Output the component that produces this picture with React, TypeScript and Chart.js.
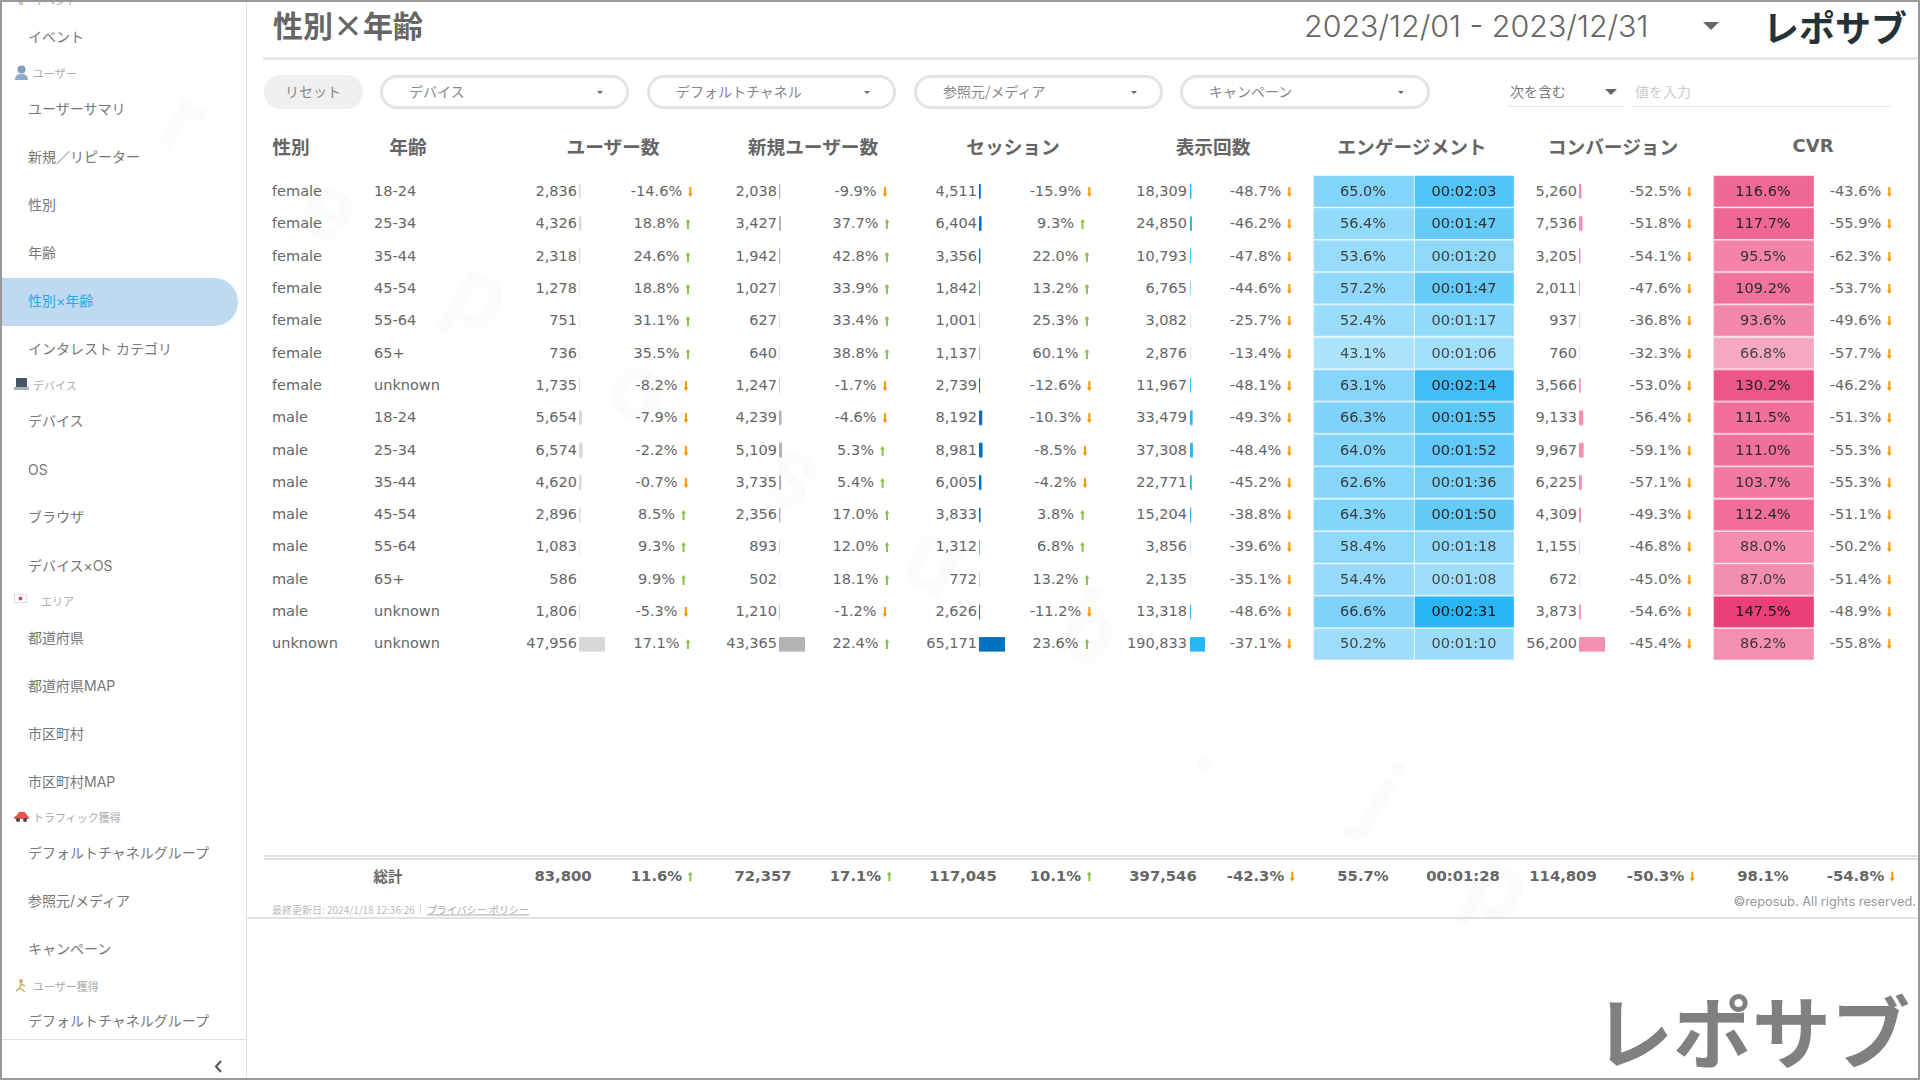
import { useEffect, useRef, type CSSProperties, type ReactNode } from "react";
import { Chart, registerables } from "chart.js";

Chart.register(...registerables);

const genders = ["female", "female", "female", "female", "female", "female", "female", "male", "male", "male", "male", "male", "male", "male", "unknown"];
const ages = ["18-24", "25-34", "35-44", "45-54", "55-64", "65+", "unknown", "18-24", "25-34", "35-44", "45-54", "55-64", "65+", "unknown", "unknown"];

const users = [2836, 4326, 2318, 1278, 751, 736, 1735, 5654, 6574, 4620, 2896, 1083, 586, 1806, 47956];
const usersDelta = [-14.6, 18.8, 24.6, 18.8, 31.1, 35.5, -8.2, -7.9, -2.2, -0.7, 8.5, 9.3, 9.9, -5.3, 17.1];
const newUsers = [2038, 3427, 1942, 1027, 627, 640, 1247, 4239, 5109, 3735, 2356, 893, 502, 1210, 43365];
const newUsersDelta = [-9.9, 37.7, 42.8, 33.9, 33.4, 38.8, -1.7, -4.6, 5.3, 5.4, 17.0, 12.0, 18.1, -1.2, 22.4];
const sessions = [4511, 6404, 3356, 1842, 1001, 1137, 2739, 8192, 8981, 6005, 3833, 1312, 772, 2626, 65171];
const sessionsDelta = [-15.9, 9.3, 22.0, 13.2, 25.3, 60.1, -12.6, -10.3, -8.5, -4.2, 3.8, 6.8, 13.2, -11.2, 23.6];
const views = [18309, 24850, 10793, 6765, 3082, 2876, 11967, 33479, 37308, 22771, 15204, 3856, 2135, 13318, 190833];
const viewsDelta = [-48.7, -46.2, -47.8, -44.6, -25.7, -13.4, -48.1, -49.3, -48.4, -45.2, -38.8, -39.6, -35.1, -48.6, -37.1];
const engagementRate = [65.0, 56.4, 53.6, 57.2, 52.4, 43.1, 63.1, 66.3, 64.0, 62.6, 64.3, 58.4, 54.4, 66.6, 50.2];
const engagementSeconds = [123, 107, 80, 107, 77, 66, 134, 115, 112, 96, 110, 78, 68, 151, 70];
const conversions = [5260, 7536, 3205, 2011, 937, 760, 3566, 9133, 9967, 6225, 4309, 1155, 672, 3873, 56200];
const conversionsDelta = [-52.5, -51.8, -54.1, -47.6, -36.8, -32.3, -53.0, -56.4, -59.1, -57.1, -49.3, -46.8, -45.0, -54.6, -45.4];
const cvr = [116.6, 117.7, 95.5, 109.2, 93.6, 66.8, 130.2, 111.5, 111.0, 103.7, 112.4, 88.0, 87.0, 147.5, 86.2];
const cvrDelta = [-43.6, -55.9, -62.3, -53.7, -49.6, -57.7, -46.2, -51.3, -55.3, -55.3, -51.1, -50.2, -51.4, -48.9, -55.8];

const headers: [string, number][] = [
  ["ユーザー数", 613], ["新規ユーザー数", 813], ["セッション", 1013], ["表示回数", 1213],
  ["エンゲージメント", 1412], ["コンバージョン", 1613],
];

const sideItems: [string, number, boolean?][] = [
  ["イベント", 36], ["ユーザーサマリ", 108], ["新規／リピーター", 156], ["性別", 204], ["年齢", 252],
  ["性別×年齢", 300, true], ["インタレスト カテゴリ", 348], ["デバイス", 420], ["OS", 469], ["ブラウザ", 516],
  ["デバイス×OS", 565], ["都道府県", 637], ["都道府県MAP", 685], ["市区町村", 733], ["市区町村MAP", 781],
  ["デフォルトチャネルグループ", 852], ["参照元/メディア", 900], ["キャンペーン", 948], ["デフォルトチャネルグループ", 1020],
];
const sideSections: [string, number, number][] = [
  ["イベント", 0, 33], ["ユーザー", 73, 33], ["デバイス", 385, 33], ["エリア", 601, 41], ["トラフィック獲得", 817, 33], ["ユーザー獲得", 986, 33],
];
const filters: [string, number, number][] = [
  ["デバイス", 380, 249], ["デフォルトチャネル", 647, 249], ["参照元/メディア", 914, 249], ["キャンペーン", 1180, 250],
];
const watermark: [string, number, number][] = [
  ["r", 185, 120], ["e", 330, 207], ["p", 480, 295], ["o", 640, 387], ["s", 795, 473],
  ["u", 935, 560], ["b", 1090, 630], [".", 1218, 743], ["j", 1382, 796], ["p", 1500, 885],
];

const TOP = 175;
const ROW = 32.3;
const CJK = '"Noto Sans CJK JP", sans-serif';
const NUM = '"DejaVu Sans", sans-serif';
const TEXT = "#666";

function mix(hex: string, alpha: number) {
  const n = parseInt(hex.slice(1), 16);
  const ch = (v: number) => Math.round(255 - (255 - v) * alpha);
  return `rgb(${ch((n >> 16) & 255)}, ${ch((n >> 8) & 255)}, ${ch(n & 255)})`;
}

function inkFor(alpha: number) {
  const v = Math.round(110 - 90 * alpha);
  return `rgb(${v}, ${v}, ${v})`;
}

function clock(seconds: number) {
  const m = Math.floor(seconds / 60);
  const s = seconds % 60;
  return `00:${String(m).padStart(2, "0")}:${String(s).padStart(2, "0")}`;
}

function BarColumn({ left, width, values, max, color, percent }: {
  left: number;
  width: number;
  values: number[];
  max: number;
  color: string | string[];
  percent: number;
}) {
  const canvasRef = useRef<HTMLCanvasElement | null>(null);

  useEffect(() => {
    if (!canvasRef.current) return;
    const chart = new Chart(canvasRef.current, {
      type: "bar",
      data: {
        labels: ages,
        datasets: [{
          data: values,
          backgroundColor: color,
          borderColor: "rgba(255, 255, 255, 0.25)",
          borderWidth: percent === 1 ? 1 : 0,
          borderSkipped: false,
          barPercentage: percent,
          categoryPercentage: 1,
        }],
      },
      options: {
        indexAxis: "y",
        animation: false,
        responsive: true,
        maintainAspectRatio: false,
        layout: { padding: 0 },
        plugins: { legend: { display: false }, tooltip: { enabled: false } },
        scales: {
          x: { display: false, min: 0, max },
          y: { display: false },
        },
      },
    });
    return () => {
      chart.destroy();
    };
  }, [values, max, color, percent]);

  return (
    <div style={{ position: "absolute", left, top: TOP, width, height: ROW * 15 }}>
      <canvas ref={canvasRef} />
    </div>
  );
}

function Label({ x, y, children, align = "left", style }: {
  x: number;
  y: number;
  children: ReactNode;
  align?: "left" | "right" | "center";
  style?: CSSProperties;
}) {
  const shift = align === "left" ? "0" : align === "right" ? "-100%" : "-50%";
  return (
    <div style={{
      position: "absolute",
      left: x,
      top: y,
      transform: `translate(${shift}, -50%)`,
      whiteSpace: "nowrap",
      fontFamily: NUM,
      fontSize: 14.5,
      color: TEXT,
      ...style,
    }}>
      {children}
    </div>
  );
}

function Delta({ x, y, value, bold }: { x: number; y: number; value: number; bold?: boolean }) {
  const up = value >= 0;
  const fill = up ? "#8bc34a" : "#ff9800";
  return (
    <Label x={x} y={y} align="center" style={bold ? { fontWeight: 700, fontSize: 14.8 } : undefined}>
      {value.toFixed(1)}%
      <svg width="5" height="10" style={{ marginLeft: 6, verticalAlign: -1 }}>
        <path d={up ? "M2.5 0L5 3.500H3.500V10H1.500V3.500H0z" : "M2.500 10L5 6.500H3.500V0H1.500V6.500H0z"} fill={fill} />
      </svg>
    </Label>
  );
}

function Caret({ x, y, size }: { x: number; y: number; size: number }) {
  return (
    <div style={{
      position: "absolute",
      left: x - size,
      top: y - size / 2,
      borderLeft: `${size}px solid transparent`,
      borderRight: `${size}px solid transparent`,
      borderTop: `${size}px solid #666`,
    }} />
  );
}

function SectionIcon({ index }: { index: number }) {
  const y = sideSections[index][1];
  const box: CSSProperties = { position: "absolute", left: 14, top: y - 8 };
  if (index === 1) {
    return (
      <svg style={box} width="15" height="16"><circle cx="7.5" cy="4.5" r="4" fill="#7f9fc0" /><path d="M1 15c0-5 3-6 6.5-6s6.500 1 6.500 6z" fill="#8fabc8" /></svg>
    );
  }
  if (index === 2) {
    return (
      <svg style={box} width="15" height="14"><rect x="2" y="1" width="11" height="9" fill="#445566" /><rect x="0" y="10" width="15" height="3" fill="#aab0b8" /></svg>
    );
  }
  if (index === 3) {
    return (
      <svg style={box} width="13" height="11"><rect x="0.500" y="1.500" width="12" height="8" fill="#fff" stroke="#ddd" /><circle cx="6.500" cy="5.500" r="2" fill="#e0455f" /></svg>
    );
  }
  if (index === 4) {
    return (
      <svg style={box} width="15" height="14"><path d="M0 10c0-3 2-3 3-4l2-3h6l2 3c1 1 2 1 2 4z" fill="#e8554e" /><circle cx="4" cy="11" r="2" fill="#444" /><circle cx="11" cy="11" r="2" fill="#444" /></svg>
    );
  }
  if (index === 5) {
    return (
      <svg style={box} width="14" height="15"><circle cx="7" cy="3" r="2" fill="#d9a878" /><path d="M7 5l-1 5-4 3M7 6l4 2M6 10l5 4" stroke="#c9b27a" strokeWidth="1.600" fill="none" /></svg>
    );
  }
  return <svg style={box} width="14" height="14"><rect x="5" y="1" width="4" height="12" fill="#d8c0a8" /></svg>;
}

const rateAlpha = engagementRate.map((v) => v / 111);
const timeAlpha = engagementSeconds.map((v) => v / 151);
const cvrAlpha = cvr.map((v) => v / 147.5);
const fullCells = ages.map(() => 1);

const valueColumns: [number[], number][] = [[users, 577], [newUsers, 777], [sessions, 977], [views, 1187], [conversions, 1577]];
const deltaColumns: [number[], number][] = [
  [usersDelta, 662], [newUsersDelta, 861], [sessionsDelta, 1061], [viewsDelta, 1261], [conversionsDelta, 1661], [cvrDelta, 1861],
];
const totals: [string, number][] = [
  ["83,800", 563], ["72,357", 763], ["117,045", 963], ["397,546", 1163], ["55.7%", 1363], ["00:01:28", 1463], ["114,809", 1563], ["98.1%", 1763],
];
const totalDeltas: [number, number][] = [[11.6, 662], [17.1, 861], [10.1, 1061], [-42.3, 1261], [-50.3, 1661], [-54.8, 1861]];

export default function App() {
  useEffect(() => {
    document.body.style.margin = "0";
  }, []);

  return (
    <div style={{ position: "relative", width: 1920, height: 1080, overflow: "hidden", background: "#fff", fontFamily: CJK }}>
      {watermark.map(([ch, x, y], i) => (
        <Label key={i} x={x} y={y} align="center" style={{
          fontFamily: "Roboto, sans-serif",
          fontWeight: 700,
          fontSize: 96,
          lineHeight: 0.8,
          color: "#fbfbfb",
          transform: "translate(-50%, -50%) rotate(30deg)",
        }}>{ch}</Label>
      ))}

      {/* sidebar */}
      <div style={{ position: "absolute", left: 246, top: 0, width: 1, height: 1080, background: "#e4e4e4" }} />
      <div style={{ position: "absolute", left: 2, top: 278, width: 236, height: 48, background: "#bfd9f1", borderRadius: "0 24px 24px 0" }} />
      {sideItems.map(([name, y, active], i) => (
        <Label key={i} x={28} y={y} style={{ fontFamily: `Inter, ${CJK}`, fontSize: 14, color: active ? "#29a9e8" : "#777" }}>{name}</Label>
      ))}
      {sideSections.map(([name, y, x], i) => (
        <div key={i}>
          <SectionIcon index={i} />
          <Label x={x} y={y} style={{ fontFamily: CJK, fontSize: 11, color: "#aaa" }}>{name}</Label>
        </div>
      ))}
      <div style={{ position: "absolute", left: 2, top: 1039, width: 245, height: 1, background: "#e0e0e0" }} />
      <svg style={{ position: "absolute", left: 214, top: 1060 }} width="9" height="13"><path d="M7 1L2 6.500l5 5.500" stroke="#555" strokeWidth="2" fill="none" /></svg>

      {/* header */}
      <Label x={273} y={24} style={{ fontFamily: CJK, fontSize: 30, fontWeight: 700, color: "#666" }}>性別×年齢</Label>
      <Label x={1304} y={26} style={{ fontFamily: "Inter, sans-serif", fontWeight: 300, fontSize: 30.4, color: "#666" }}>2023/12/01 - 2023/12/31</Label>
      <Caret x={1711} y={26} size={8} />
      <Label x={1763} y={26} style={{ fontFamily: CJK, fontSize: 36, fontWeight: 700, color: "#263238" }}>レポサブ</Label>
      <div style={{ position: "absolute", left: 263, top: 57, width: 1655, height: 3, background: "#e8e8e8" }} />

      {/* filters */}
      <div style={{ position: "absolute", left: 264, top: 75, width: 99, height: 34, borderRadius: 17, background: "#f0f0f0" }} />
      <Label x={313} y={91} align="center" style={{ fontFamily: CJK, fontSize: 14, color: "#888" }}>リセット</Label>
      {filters.map(([name, x, w]) => (
        <div key={name}>
          <div style={{ position: "absolute", left: x, top: 75, width: w, height: 34, boxSizing: "border-box", border: "3px solid #e4e4e4", borderRadius: 17 }} />
          <Label x={x + 29} y={91} style={{ fontFamily: CJK, fontSize: 14, color: "#888" }}>{name}</Label>
          <Caret x={x + w - 29} y={93} size={3.500} />
        </div>
      ))}
      <Label x={1510} y={91} style={{ fontFamily: CJK, fontSize: 14, color: "#777" }}>次を含む</Label>
      <Caret x={1611} y={92} size={6} />
      <div style={{ position: "absolute", left: 1508, top: 106, width: 115, height: 1, background: "#e4e4e4" }} />
      <Label x={1635} y={91} style={{ fontFamily: CJK, fontSize: 14, color: "#ccc" }}>値を入力</Label>
      <div style={{ position: "absolute", left: 1633, top: 106, width: 258, height: 1, background: "#e4e4e4" }} />

      {/* column heads */}
      <Label x={291} y={145} align="center" style={{ fontFamily: CJK, fontSize: 18.700, fontWeight: 700 }}>性別</Label>
      <Label x={408} y={145} align="center" style={{ fontFamily: CJK, fontSize: 18.700, fontWeight: 700 }}>年齢</Label>
      {headers.map(([name, x]) => (
        <Label key={name} x={x} y={145} align="center" style={{ fontFamily: CJK, fontSize: 18.700, fontWeight: 700 }}>{name}</Label>
      ))}
      <Label x={1813} y={145} align="center" style={{ fontWeight: 700, fontSize: 18 }}>CVR</Label>

      {/* marks */}
      <BarColumn left={579} width={26} values={users} max={47956} color="#d8d8d8" percent={0.45} />
      <BarColumn left={779} width={26} values={newUsers} max={43365} color="#b3b3b3" percent={0.45} />
      <BarColumn left={979} width={26} values={sessions} max={65171} color="#0070c0" percent={0.45} />
      <BarColumn left={1190} width={15} values={views} max={190833} color="#29b6f6" percent={0.45} />
      <BarColumn left={1579} width={26} values={conversions} max={56200} color="#f48fb1" percent={0.45} />
      <BarColumn left={1313} width={100.500} values={fullCells} max={1} color={rateAlpha.map((a) => mix("#29b6f6", a))} percent={1} />
      <BarColumn left={1413.500} width={100.500} values={fullCells} max={1} color={timeAlpha.map((a) => mix("#29b6f6", a))} percent={1} />
      <BarColumn left={1713} width={100.500} values={fullCells} max={1} color={cvrAlpha.map((a) => mix("#ec407a", a))} percent={1} />

      {/* table text */}
      {ages.map((age, i) => {
        const y = TOP + ROW * (i + 0.5);
        return (
          <div key={i}>
            <Label x={272} y={y}>{genders[i]}</Label>
            <Label x={374} y={y}>{age}</Label>
            {valueColumns.map(([col, x]) => (
              <Label key={x} x={x} y={y} align="right">{col[i].toLocaleString("en-US")}</Label>
            ))}
            {deltaColumns.map(([col, x]) => (
              <Delta key={x} x={x} y={y} value={col[i]} />
            ))}
            <Label x={1363} y={y} align="center" style={{ color: inkFor(rateAlpha[i]) }}>{engagementRate[i].toFixed(1)}%</Label>
            <Label x={1464} y={y} align="center" style={{ color: inkFor(timeAlpha[i]) }}>{clock(engagementSeconds[i])}</Label>
            <Label x={1763} y={y} align="center" style={{ color: inkFor(cvrAlpha[i]) }}>{cvr[i].toFixed(1)}%</Label>
          </div>
        );
      })}

      {/* totals */}
      <div style={{ position: "absolute", left: 264, top: 855, width: 1654, height: 5, boxSizing: "border-box", borderTop: "2px solid #e0e0e0", borderBottom: "2px solid #e0e0e0" }} />
      <Label x={388} y={875} align="center" style={{ fontFamily: CJK, fontSize: 14.500, fontWeight: 700 }}>総計</Label>
      {totals.map(([v, x]) => (
        <Label key={x} x={x} y={875} align="center" style={{ fontWeight: 700, fontSize: 14.800 }}>{v}</Label>
      ))}
      {totalDeltas.map(([v, x]) => (
        <Delta key={x} x={x} y={875} value={v} bold />
      ))}

      {/* footer */}
      <Label x={272} y={909} style={{ fontFamily: CJK, fontSize: 10, color: "#bbb" }}>最終更新日: 2024/1/18 12:36:26</Label>
      <div style={{ position: "absolute", left: 420, top: 904, width: 1, height: 10, background: "#ddd" }} />
      <Label x={427} y={909} style={{ fontFamily: CJK, fontSize: 10, color: "#aaa", textDecoration: "underline" }}>プライバシー ポリシー</Label>
      <Label x={1916} y={901} align="right" style={{ fontFamily: "Inter, sans-serif", fontSize: 12.800, color: "#999" }}>©reposub. All rights reserved.</Label>
      <div style={{ position: "absolute", left: 247, top: 917, width: 1671, height: 2, background: "#e2e2e2" }} />

      <Label x={1594} y={1028} style={{ fontFamily: CJK, fontSize: 79, fontWeight: 700, color: "#808080" }}>レポサブ</Label>

      {/* screenshot frame */}
      <div style={{ position: "absolute", inset: 0, boxSizing: "border-box", border: "2px solid #999", pointerEvents: "none" }} />
    </div>
  );
}
